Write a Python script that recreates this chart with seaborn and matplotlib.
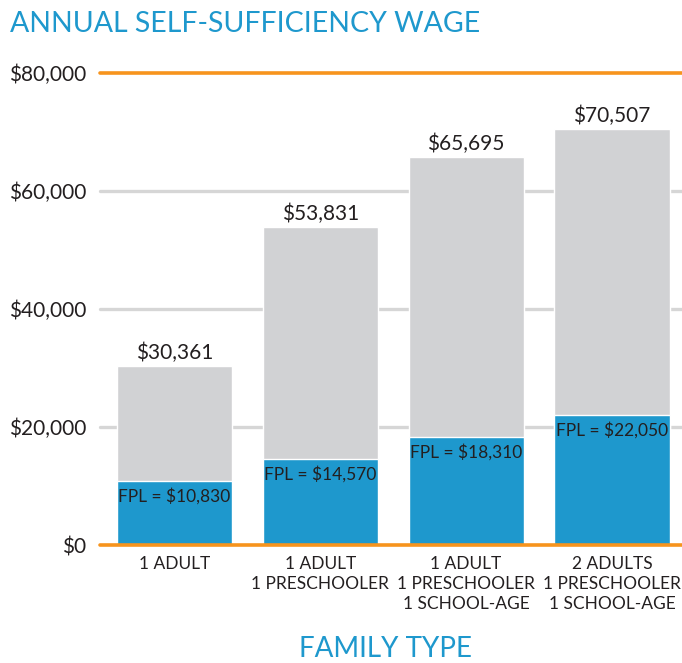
import numpy as np
import matplotlib
matplotlib.use("Agg")
import matplotlib.pyplot as plt
import pandas as pd
import seaborn as sns

# data
families = ["1 ADULT", "1 ADULT\n1 PRESCHOOLER",
            "1 ADULT\n1 PRESCHOOLER\n1 SCHOOL-AGE",
            "2 ADULTS\n1 PRESCHOOLER\n1 SCHOOL-AGE"]
wage = [30361, 53831, 65695, 70507]
fpl = [10830, 14570, 18310, 22050]
yticks = [0, 20000, 40000, 60000, 80000]

BLUE = "#1e98cd"
GREY = "#d1d2d4"
ORANGE = "#f7941d"
GRID = "#d6d6d6"
TXT = "#231f20"

sns.set_style("white")
plt.rcParams['font.family'] = ['Lato', 'DejaVu Sans']

df = pd.DataFrame({"family": families, "wage": wage, "fpl": fpl})

fig = plt.figure(figsize=(6.82, 6.63), dpi=100)
ax = fig.add_axes([100/682, 118/663, 582/682, 472/663])

# gridlines
for v in yticks[1:-1]:
    ax.axhline(v, color=GRID, lw=2.4, zorder=0, clip_on=False)
ax.axhline(0, color=ORANGE, lw=2.6, zorder=3, clip_on=False)
ax.axhline(80000, color=ORANGE, lw=2.6, zorder=3, clip_on=False)

sns.barplot(data=df, x="family", y="wage", color=GREY, width=0.79,
            saturation=1, ax=ax, zorder=1)
sns.barplot(data=df, x="family", y="fpl", color=BLUE, width=0.79,
            saturation=1, ax=ax, zorder=2)

for i in range(len(families)):
    ax.text(i, wage[i] + 500, "${:,}".format(wage[i]), ha="center", va="bottom",
            fontsize=15, color=TXT)
    ax.text(i, fpl[i] - 1200, "FPL = ${:,}".format(fpl[i]), ha="center", va="top",
            fontsize=12.5, color=TXT)

ax.set_xlim(-0.51, 3.48)
ax.set_ylim(0, 80000)
ax.set_yticks(yticks)
ax.set_yticklabels(["${:,}".format(v) for v in yticks], fontsize=15, color=TXT)
ax.set_xticks(range(len(families)))
ax.set_xticklabels(families, fontsize=12.5, color=TXT, linespacing=1.3)
ax.tick_params(axis="both", length=0)
ax.tick_params(axis="y", pad=10)
ax.tick_params(axis="x", pad=8)
ax.set_xlabel("")
ax.set_ylabel("")
sns.despine(ax=ax, left=True, bottom=True)

fig.text(10/682, 1 - 24/663, "ANNUAL SELF-SUFFICIENCY WAGE", color=BLUE,
         fontsize=20.5, ha="left", va="center")
fig.text(385/682, 1 - 649/663, "FAMILY TYPE", color=BLUE,
         fontsize=20, ha="center", va="center")

fig.savefig("out.png", dpi=100)
